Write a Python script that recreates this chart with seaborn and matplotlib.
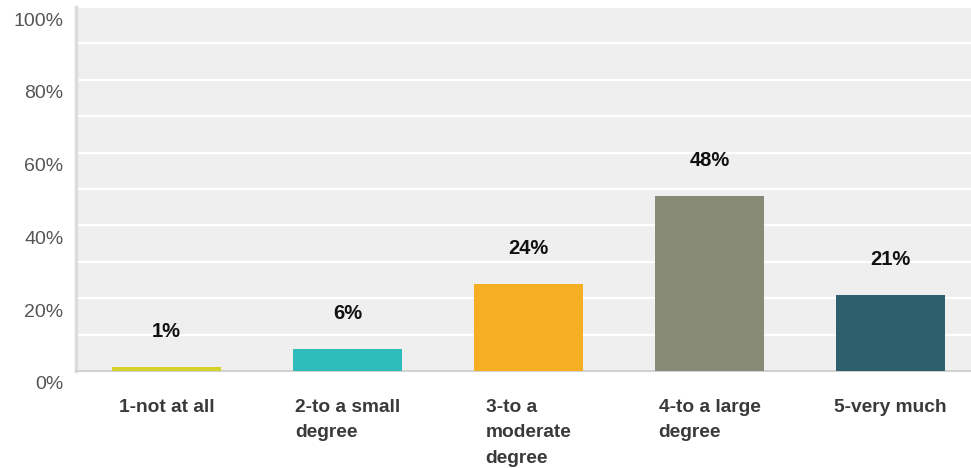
import matplotlib
matplotlib.use("Agg")
import matplotlib.pyplot as plt
import matplotlib.transforms as mtransforms
import seaborn as sns
import pandas as pd
import numpy as np

categories = ["1-not at all", "2-to a small\ndegree", "3-to a\nmoderate\ndegree",
              "4-to a large\ndegree", "5-very much"]
values = [1, 6, 24, 48, 21]
colors = ["#D4D12A", "#2EBDBA", "#F6AF22", "#888A78", "#2E5F6D"]
y_ticks = [0, 20, 40, 60, 80, 100]

sns.set_theme(style="white")
plt.rcParams["font.family"] = ["Liberation Sans", "DejaVu Sans"]

df = pd.DataFrame({"category": categories, "value": values})

fig = plt.figure(figsize=(9.71, 4.68), dpi=100)
ax = fig.add_axes([0.0783, 0.2073, 0.932, 0.7777])
ax.set_facecolor("#EFEFEF")

sns.barplot(data=df, x="category", y="value", hue="category", palette=colors,
            width=0.60, saturation=1, linewidth=0, legend=False, ax=ax, zorder=3)

ax.set_ylim(0, 100)
ax.set_xlim(-0.5, len(categories) - 0.5)
ax.set_yticks(y_ticks)
ax.set_yticklabels([f"{t}%" for t in y_ticks])
ax.set_yticks(np.arange(10, 100, 10), minor=True)
ax.grid(True, axis="y", which="both", color="white", linewidth=1.6, zorder=1)
ax.set_axisbelow(True)
ax.set_xlabel("")
ax.set_ylabel("")

for s in ["top", "right"]:
    ax.spines[s].set_visible(False)
ax.spines["left"].set_color("#DCDCDC")
ax.spines["left"].set_linewidth(2.5)
ax.spines["bottom"].set_color("#D2D2D2")
ax.spines["bottom"].set_linewidth(1.5)

ax.tick_params(axis="y", which="both", length=0, pad=9, labelsize=14,
               labelcolor="#555555")
ax.tick_params(axis="x", length=0, pad=20)
offset = mtransforms.ScaledTranslation(0, -12 / 100, fig.dpi_scale_trans)
for lbl in ax.get_yticklabels():
    lbl.set_transform(lbl.get_transform() + offset)

for lbl in ax.get_xticklabels():
    lbl.set_fontsize(13.8)
    lbl.set_fontweight("bold")
    lbl.set_color("#3A3A3A")
    lbl.set_multialignment("left")
    lbl.set_linespacing(1.65)
    lbl.set_verticalalignment("top")

# value labels above each bar
for i, v in enumerate(values):
    ax.annotate(f"{v}%", xy=(i, v), xytext=(0, 25.5), textcoords="offset points",
                ha="center", va="center", fontsize=14.5, fontweight="bold",
                color="#111111")

fig.savefig("out.png", dpi=100, facecolor="white")
